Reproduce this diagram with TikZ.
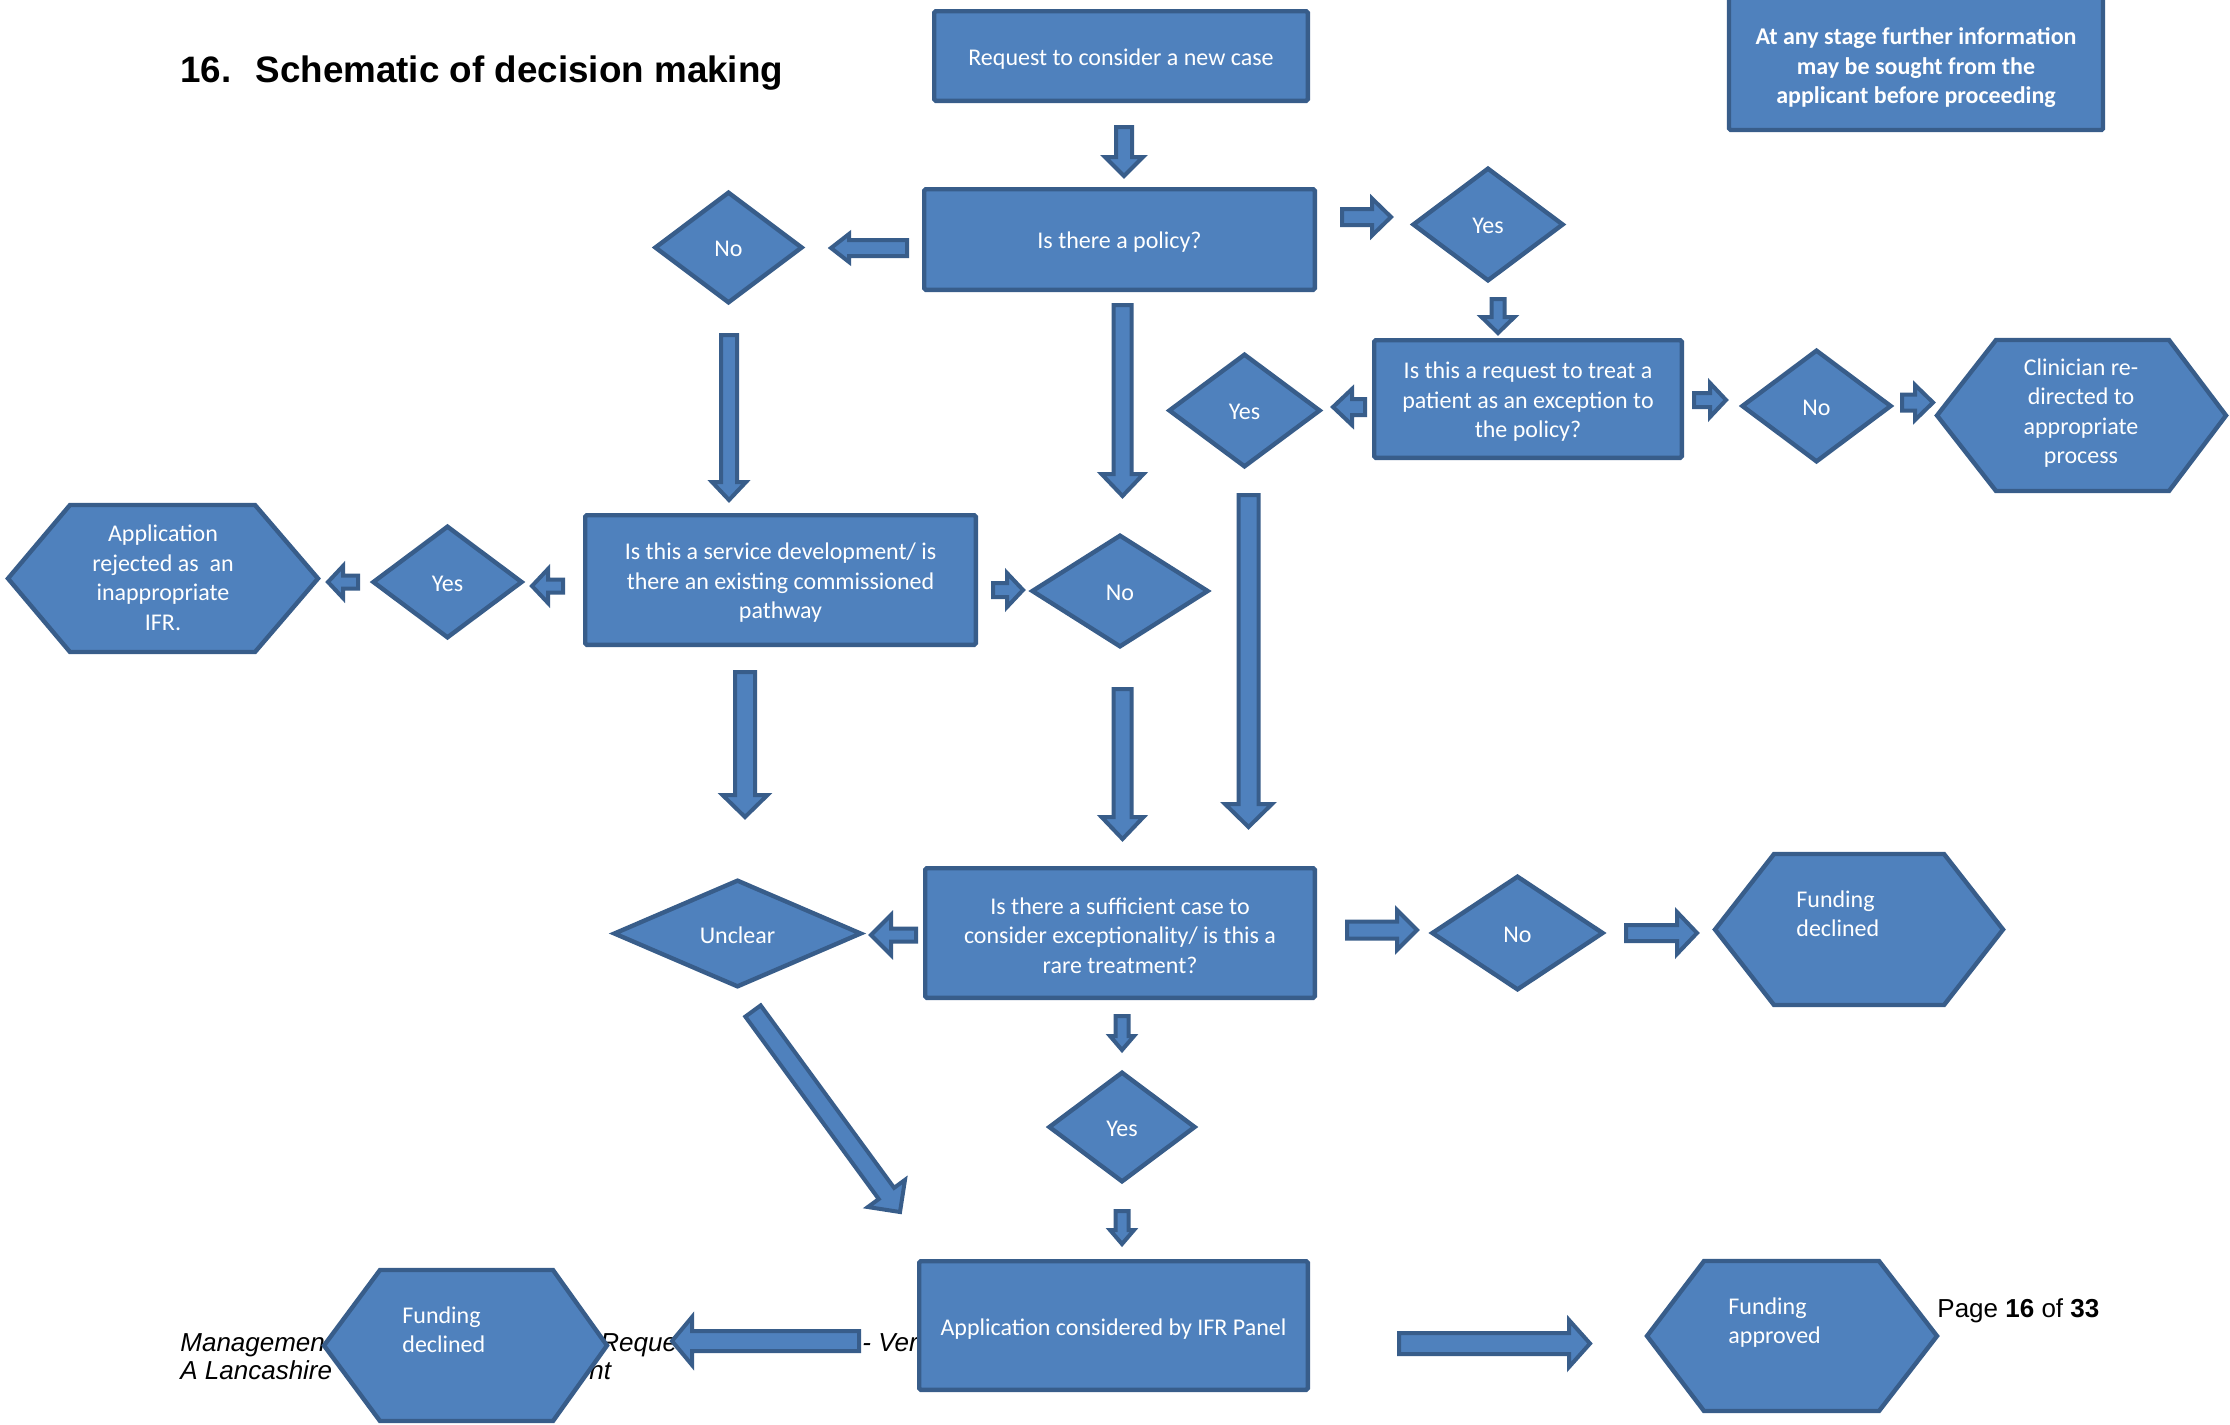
\documentclass[tikz,border=0pt]{standalone}
\usepackage{fontspec}
\setmainfont{Carlito}
\newfontfamily\arialf{Liberation Sans}
\usetikzlibrary{shapes.geometric,calc}
\definecolor{blu}{HTML}{4F81BD}
\definecolor{bdr}{HTML}{385D8A}
\newcommand\barrow[6]{%
  \coordinate (#1-t) at (#2);
  \coordinate (#1-h) at (#3);
  \pgfmathsetmacro\bsw{#4*0.5}%
  \pgfmathsetmacro\bhw{#5*0.5}%
  \pgfmathsetmacro\bhl{#6*0.5}%
  \coordinate (#1-b) at ($(#1-h)!\bhl pt!(#1-t)$);
  \draw[blk] ($(#1-t)!\bsw pt!90:(#1-h)$) -- ($(#1-b)!\bsw pt!90:(#1-h)$) -- ($(#1-b)!\bhw pt!90:(#1-h)$) -- (#1-h) -- ($(#1-b)!\bhw pt!-90:(#1-h)$) -- ($(#1-b)!\bsw pt!-90:(#1-h)$) -- ($(#1-t)!\bsw pt!-90:(#1-h)$) -- cycle;
}
\newcommand\hexagon[6]{%
  \draw[hexs] (#1,{(#5+#6)/2}) -- (#2,#5) -- (#3,#5) -- (#4,{(#5+#6)/2}) -- (#3,#6) -- (#2,#6) -- cycle;
}
\begin{document}
\begin{tikzpicture}[x=0.5pt,y=-0.5pt,
  txt/.style={text=white,font=\fontsize{12}{14.75}\selectfont,align=center,inner sep=0pt},
  box/.style={draw=bdr,fill=blu,line width=2.2pt,rounded corners=0.8pt,inner sep=0pt},
  boxline/.style={draw=bdr,fill=blu,line width=2.2pt,rounded corners=0.8pt},
  dia/.style={diamond,aspect=1.3,draw=bdr,fill=blu,line width=2.2pt,inner sep=0pt},
  blk/.style={draw=bdr,fill=blu,line width=2pt},
  hexs/.style={draw=bdr,fill=blu,line width=2.2pt},
  foot/.style={anchor=base west,inner sep=0pt,font=\arialf\itshape\fontsize{13}{15}\selectfont},
]
\useasboundingbox (0,0) rectangle (2230,1424);
\fill[white] (0,0) rectangle (2230,1424);

% title and footer text
\node[anchor=base west,inner sep=0pt,font=\arialf\bfseries\fontsize{18.4}{21}\selectfont] (title) at (180,82) {16.\hspace{12pt}Schematic of decision making};
\node[foot] (f1) at (180,1351) {Managemen};
\node[foot] (f2) at (600,1351) {Reque};
\node[foot] (f3) at (862,1351) {- Ver};
\node[foot] (f4) at (180,1379) {A Lancashire};
\node[foot] (f5) at (589,1379) {nt};
\node[anchor=base west,inner sep=0pt,font=\arialf\fontsize{13}{15}\selectfont] (page) at (1937,1317) {Page \textbf{16} of \textbf{33}};

% info box
\draw[boxline] (1729,-20) rectangle (2103,130);
\node[txt,font=\bfseries\fontsize{12}{14.75}\selectfont] (info) at (1916,68) {At any stage further information\\may be sought from the\\applicant before proceeding};

% boxes
\node[box,minimum width=186.8pt,minimum height=44.8pt] (req) at (1121,56) {};
\node[txt] (reqT) at ([yshift=-1.5pt]req.center) {Request to consider a new case};
\node[box,minimum width=195.3pt,minimum height=50.3pt] (policy) at (1119.5,239.5) {};
\node[txt] (policyT) at ([yshift=-1.5pt]policy.center) {Is there a policy?};
\node[box,minimum width=153.8pt,minimum height=58.8pt] (exc) at (1528,399) {};
\node[txt] (excT) at ([yshift=-1.5pt]exc.center) {Is this a request to treat a\\patient as an exception to\\the policy?};
\node[box,minimum width=195.3pt,minimum height=64.8pt] (svc) at (780.5,580) {};
\node[txt] (svcT) at ([yshift=-1.5pt]svc.center) {Is this a service development/ is\\there an existing commissioned\\pathway};
\node[box,minimum width=194.8pt,minimum height=64.8pt] (suff) at (1120,933) {};
\node[txt] (suffT) at ([yshift=-1.2pt]suff.center) {Is there a sufficient case to\\consider exceptionality/ is this a\\rare treatment?};
\node[box,minimum width=194.3pt,minimum height=64.3pt] (ifr) at (1113.5,1325.5) {};
\node[txt] (ifrT) at ([yshift=-2pt]ifr.center) {Application considered by IFR Panel};

% diamonds
\node[dia,minimum width=74pt,minimum height=55.75pt] (noL) at (728.5,247.5) {};
\node[txt] (noLT) at ([yshift=-0.75pt]noL.center) {No};
\node[dia,minimum width=75.5pt,minimum height=56.75pt] (yesT) at (1488,224.5) {};
\node[txt] (yesTT) at ([yshift=-0.75pt]yesT.center) {Yes};
\node[dia,minimum width=76pt,minimum height=56.75pt] (yesE) at (1244.5,410.5) {};
\node[txt] (yesET) at ([yshift=-0.75pt]yesE.center) {Yes};
\node[dia,minimum width=75pt,minimum height=56.25pt] (noE) at (1816.5,406) {};
\node[txt] (noET) at ([yshift=-0.75pt]noE.center) {No};
\node[dia,minimum width=75pt,minimum height=56.25pt] (yesS) at (447.5,582) {};
\node[txt] (yesST) at ([yshift=-0.75pt]yesS.center) {Yes};
\node[dia,minimum width=88.5pt,minimum height=56.25pt] (noM) at (1120,591) {};
\node[txt] (noMT) at ([yshift=-0.75pt]noM.center) {No};
\node[dia,minimum width=124pt,minimum height=53.75pt] (unclear) at (737.5,933.5) {};
\node[txt] (unclearT) at ([yshift=-0.75pt]unclear.center) {Unclear};
\node[dia,minimum width=86pt,minimum height=57.25pt] (noS) at (1517.5,933) {};
\node[txt] (noST) at ([yshift=-0.75pt]noS.center) {No};
\node[dia,minimum width=73.5pt,minimum height=55.25pt] (yesB) at (1122,1127) {};
\node[txt] (yesBT) at ([yshift=-0.75pt]yesB.center) {Yes};

% hexagons
\hexagon{8}{70}{255}{318}{505}{652}
\node[txt] (rej) at (163,578) {Application\\rejected as~ an\\inappropriate\\IFR.};
\hexagon{1937}{1996}{2169}{2226}{340}{491}
\node[txt] (clin) at (2081,413) {Clinician re-\\directed to\\appropriate\\process};
\hexagon{1715}{1774}{1944}{2003}{854}{1005}
\node[txt,align=left,anchor=north west] (declR) at (1796,890) {Funding\\declined};
\hexagon{1647}{1704}{1879}{1937}{1261}{1411}
\node[txt,align=left,anchor=north west] (appr) at (1728,1297) {Funding\\approved};
\hexagon{324}{380}{553}{607}{1270}{1421}
\node[txt,align=left,anchor=north west] (declL) at (402,1306) {Funding\\declined};

% block arrows
\barrow{a1}{1124,127}{1124,176}{8}{19}{19}
\barrow{a2}{907,248}{831,248}{8}{14}{18}
\barrow{a3}{1342,217}{1391,217}{8}{18.5}{19}
\barrow{a4}{1498,299}{1498,333}{6.5}{16.5}{16}
\barrow{a5}{1365,407}{1333,407}{8}{18}{19}
\barrow{a6}{1694,400}{1726,400}{7}{17}{16}
\barrow{a7}{1902,402.5}{1933,402.5}{8}{17.5}{18}
\barrow{a8}{729,335}{729,500}{8}{17}{18}
\barrow{a9}{1122.5,305}{1122.5,496}{9}{21}{22}
\barrow{a10}{563,586}{532,586}{6.5}{17}{16}
\barrow{a11}{358,582}{328,582}{6.5}{16}{15}
\barrow{a12}{993,590}{1023,590}{7}{17}{16}
\barrow{a13}{745,672}{745,817}{10}{22.5}{22}
\barrow{a14}{1122.5,689}{1122.5,839}{9}{21}{22}
\barrow{a15}{1248.5,495}{1248.5,827}{10}{23.5}{23}
\barrow{a16}{916,935}{871,935}{6.5}{20}{20}
\barrow{a17}{1347,930}{1417,930}{8.5}{20}{20}
\barrow{a18}{1626,933}{1697,933}{8}{21}{20}
\barrow{a19}{1122,1016}{1122,1050}{6.5}{12}{14}
\barrow{a20}{1122,1211}{1122,1244}{6.5}{12}{14}
\barrow{a21}{753,1011}{900,1212}{9.5}{23}{23}
\barrow{a22}{859,1341}{672,1341}{10}{24}{20}
\barrow{a23}{1399,1343.5}{1590,1343.5}{10.5}{23.5}{21}
\end{tikzpicture}
\end{document}
